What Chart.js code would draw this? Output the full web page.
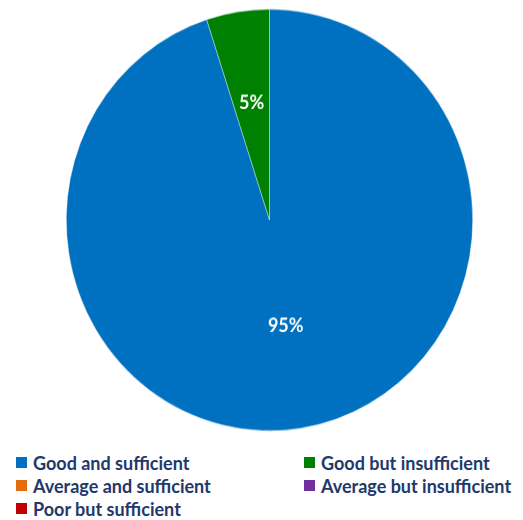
<!DOCTYPE html>
<html>
<head>
<meta charset="utf-8">
<script src="https://cdn.jsdelivr.net/npm/chart.js@4/dist/chart.umd.min.js"></script>
<style>
  html, body { margin: 0; padding: 0; background: #fff; }
  body { width: 523px; height: 520px; position: relative; overflow: hidden; font-family: Lato, "Open Sans", sans-serif; }
  #wrap { position: absolute; left: 0; top: 0; width: 523px; height: 440px; transform: scaleY(1.037); transform-origin: 50% 220px; }
  #legend { position: absolute; left: 16px; top: 451px; width: 507px; display: grid; grid-template-columns: 288px 219px; row-gap: 0; }
  .item { height: 23px; display: flex; align-items: center; font-weight: bold; font-size: 18px; color: #22386a; white-space: nowrap; }
  .box { width: 11px; height: 11px; margin-right: 6px; flex: none; }
</style>
</head>
<body>
<div id="wrap"><canvas id="myChart"></canvas></div>
<div id="legend"></div>
<script>
const categorias = ['Good and sufficient', 'Good but insufficient', 'Average and sufficient', 'Average but insufficient', 'Poor but sufficient'];
const valores = [95, 5, 0, 0, 0];
const colores = ['#0070c0', '#008000', '#e46c0a', '#7030a0', '#c00000'];

// etiquetas de porcentaje dentro de cada sector
const etiquetas = {
  id: 'etiquetas',
  afterDatasetsDraw(chart) {
    const c = chart.ctx;
    const total = valores.reduce((a, b) => a + b, 0);
    chart.getDatasetMeta(0).data.forEach((arc, i) => {
      if (!valores[i]) return;
      const p = arc.getProps(['x', 'y', 'startAngle', 'endAngle', 'outerRadius'], true);
      const mid = (p.startAngle + p.endAngle) / 2;
      const r = p.outerRadius * (valores[i] / total > 0.5 ? 0.51 : 0.56);
      c.save();
      c.fillStyle = '#ffffff';
      c.font = 'bold 18px Lato, "Open Sans", sans-serif';
      c.textAlign = 'center';
      c.textBaseline = 'middle';
      c.fillText(Math.round(valores[i] / total * 100) + '%', p.x + Math.cos(mid) * r, p.y + Math.sin(mid) * r);
      c.restore();
    });
  }
};

const ctx = document.getElementById('myChart').getContext('2d');
const myChart = new Chart(ctx, {
  type: 'pie',
  data: {
    labels: categorias,
    datasets: [{
      data: valores,
      backgroundColor: colores,
      borderColor: 'rgba(255,255,255,0.6)',
      borderWidth: 0.6
    }]
  },
  options: {
    responsive: true,
    maintainAspectRatio: false,
    animation: false,
    layout: { padding: { left: 66, right: 50, top: 16.5, bottom: 16.5 } },
    plugins: {
      legend: { display: false },
      tooltip: { enabled: false }
    }
  },
  plugins: [etiquetas]
});

// leyenda en dos columnas
const leyenda = document.getElementById('legend');
categorias.forEach((cat, i) => {
  leyenda.insertAdjacentHTML('beforeend',
    `<div class="item"><span class="box" style="background:${colores[i]}"></span>${cat}</div>`);
});
</script>
</body>
</html>
